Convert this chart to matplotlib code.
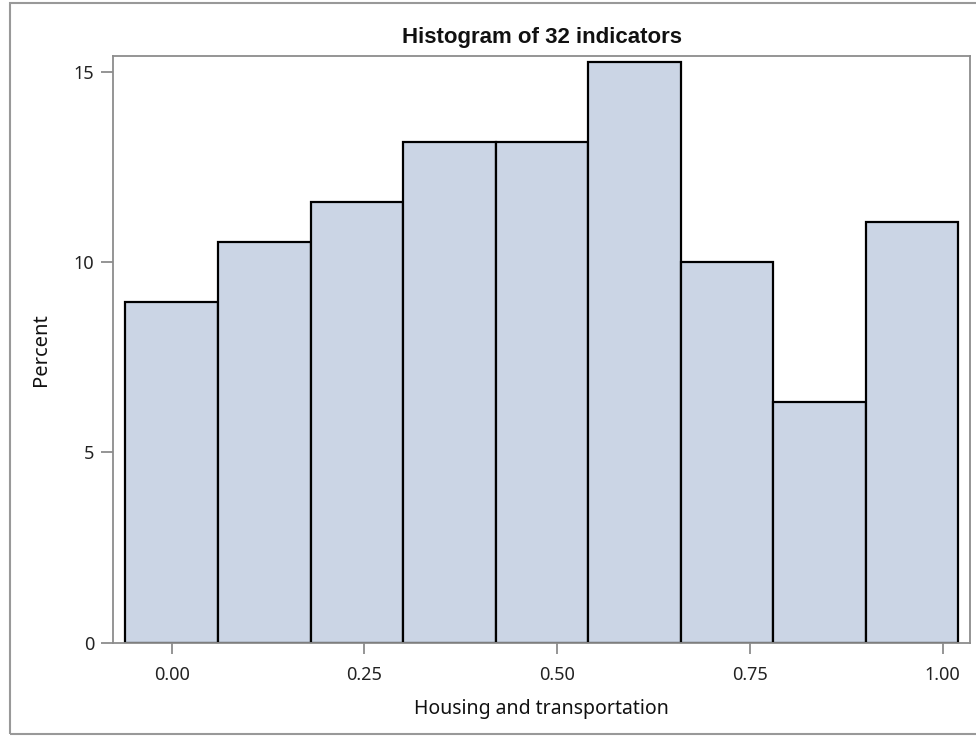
import matplotlib
matplotlib.use("Agg")
import matplotlib.pyplot as plt
from matplotlib.patches import Rectangle

# Data
bin_centers = [0.00, 0.12, 0.24, 0.36, 0.48, 0.60, 0.72, 0.84, 0.96]
percent = [8.95, 10.53, 11.58, 13.16, 13.16, 15.26, 10.00, 6.32, 11.05]
bin_width = 0.12
x_ticks = [0.0, 0.25, 0.5, 0.75, 1.0]
x_tick_labels = ["0.00", "0.25", "0.50", "0.75", "1.00"]
y_ticks = [0, 5, 10, 15]
title = "Histogram of 32 indicators"
xlabel = "Housing and transportation"
ylabel = "Percent"

plt.rcParams['font.family'] = ['Noto Sans', 'DejaVu Sans']

W, H = 976, 736
fig = plt.figure(figsize=(9.76, 7.36), dpi=100)
ax_left, ax_right, ax_top, ax_bottom = 113, 970, 56, 642.5
ax = fig.add_axes([ax_left/W, (H-ax_bottom)/H, (ax_right-ax_left)/W, (ax_bottom-ax_top)/H])

ax.bar(bin_centers, percent, width=bin_width, color="#CBD5E5",
       edgecolor="black", linewidth=1.6, align="center")

ax.set_xlim(-0.0762, 1.0354)
ax.set_ylim(0, 15.43)
ax.set_xticks(x_ticks)
ax.set_xticklabels(x_tick_labels)
ax.set_yticks(y_ticks)
for s in ax.spines.values():
    s.set_color("#8c8c8c")
    s.set_linewidth(1.3)
ax.tick_params(axis="both", direction="out", width=1.3, color="#8c8c8c",
               labelsize=13, labelcolor="#222222")
ax.tick_params(axis="x", length=8, pad=8.6)
ax.tick_params(axis="y", length=9, pad=4.3)

ax.set_xlabel(xlabel, fontsize=14, color="#111111", labelpad=11.3)
ax.set_ylabel(ylabel, fontsize=14.5, color="#111111", labelpad=16.5)
fig.text((ax_left+ax_right)/2/W, 1 - 37/H, title, ha="center", va="center",
         fontsize=16, fontweight="bold", color="#111111", family="Liberation Sans")

# outer border
fig.patches.append(Rectangle((10/W, 2/H), 980/W, 731/H, transform=fig.transFigure,
                             fill=False, edgecolor="#999999", linewidth=1.5))

fig.savefig("out.png", dpi=100)
